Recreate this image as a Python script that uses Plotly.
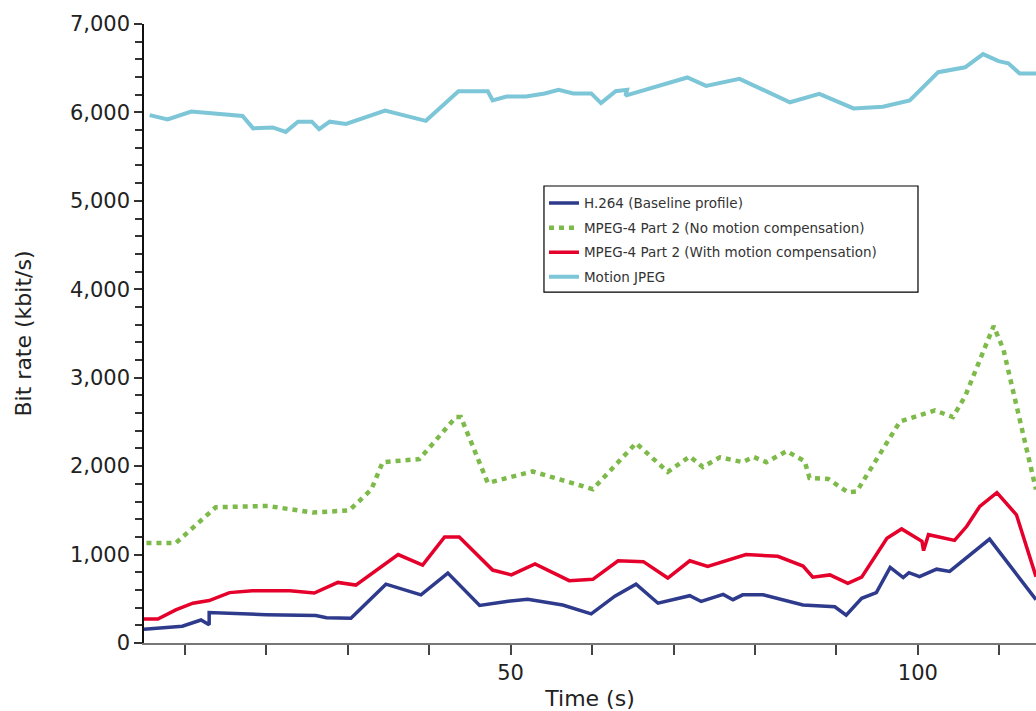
import plotly.graph_objects as go

# ---- data (time in s, bit rate in kbit/s) ----
names = [
    "H.264 (Baseline profile)",
    "MPEG-4 Part 2 (No motion compensation)",
    "MPEG-4 Part 2 (With motion compensation)",
    "Motion JPEG",
]

t_h264 = [5, 9.7, 12.0, 13.0, 13.0, 20.0, 26.1, 27.4, 30.4, 34.7, 39.0, 42.3, 46.2, 49.5, 52.1, 56.4,
          59.9, 62.8, 65.4, 68.1, 72.0, 73.4, 76.1, 77.3, 78.5, 81.0, 85.9, 89.8, 91.2, 93.1, 94.9,
          96.6, 98.2, 98.9, 100.2, 102.3, 103.9, 108.8, 114.5]
v_h264 = [155, 190, 260, 205, 345, 320, 310, 285, 280, 665, 545, 790, 425, 470, 495, 430,
          330, 530, 665, 450, 535, 470, 550, 490, 545, 545, 430, 410, 315, 505, 570,
          855, 740, 795, 750, 835, 810, 1175, 490]

t_mp4_nomc = [5.3, 8.9, 13.8, 20.2, 25.7, 30.2, 32.9, 34.3, 38.8, 43.3, 43.9, 47.2, 52.7, 60.1,
              65.4, 69.3, 72.0, 73.6, 75.7, 78.5, 79.8, 81.4, 83.9, 86.1, 86.7, 89.0, 91.4, 92.5,
              97.8, 102.1, 104.3, 105.8, 109.3, 110.5, 114.5]
v_mp4_nomc = [1130, 1130, 1535, 1550, 1475, 1500, 1735, 2045, 2080, 2555, 2555, 1810, 1940, 1740,
              2260, 1935, 2110, 1990, 2100, 2045, 2105, 2045, 2170, 2055, 1865, 1855, 1705, 1715,
              2505, 2630, 2555, 2790, 3585, 3320, 1735]

t_mp4_mc = [5, 6.7, 8.9, 11.0, 13.0, 15.5, 18.3, 22.9, 25.9, 28.8, 31.0, 36.2, 39.2, 41.9, 43.7,
            47.8, 50.1, 53.0, 57.2, 60.1, 63.2, 66.3, 69.3, 72.0, 74.2, 76.9, 78.9, 82.8, 85.9,
            87.1, 89.2, 91.4, 93.1, 96.2, 98.0, 100.5, 100.7, 101.3, 104.5, 106.0, 107.6, 109.7,
            112.1, 114.5]
v_mp4_mc = [270, 270, 375, 450, 480, 570, 590, 590, 565, 685, 655, 1000, 880, 1200, 1200,
            825, 770, 895, 705, 720, 930, 920, 735, 930, 865, 940, 1000, 980, 870,
            745, 770, 675, 745, 1185, 1290, 1150, 1045, 1225, 1160, 1320, 1545, 1700,
            1450, 750]

t_mjpeg = [5.7, 7.9, 10.8, 17.1, 18.4, 20.8, 22.4, 23.9, 25.6, 26.5, 27.8, 29.8, 34.6, 39.6,
           43.6, 47.2, 47.8, 49.5, 51.9, 54.2, 55.9, 57.7, 59.9, 61.1, 62.9, 64.3, 64.1, 71.7,
           74.0, 78.1, 84.3, 87.9, 92.1, 95.7, 99.0, 102.5, 105.8, 108.0, 109.9, 111.1, 112.5, 114.5]
v_mjpeg = [5970, 5920, 6010, 5960, 5820, 5830, 5780, 5895, 5895, 5810, 5895, 5870, 6020, 5905,
           6240, 6240, 6135, 6180, 6180, 6215, 6255, 6215, 6215, 6105, 6240, 6255, 6190, 6395,
           6300, 6380, 6115, 6210, 6045, 6065, 6135, 6455, 6510, 6660, 6580, 6555, 6440, 6440]

colors = ["#2e3a8c", "#7dba4a", "#e4002b", "#7cc6d8"]

FONT = "DejaVu Sans"

fig = go.Figure()
series = [(t_h264, v_h264), (t_mp4_nomc, v_mp4_nomc), (t_mp4_mc, v_mp4_mc), (t_mjpeg, v_mjpeg)]
widths = [3.5, 4.5, 3.5, 4]
dashes = ["solid", "5px,5px", "solid", "solid"]
for i, ((tx, vy), nm) in enumerate(zip(series, names)):
    fig.add_trace(go.Scatter(
        x=tx, y=vy, mode="lines", name=nm, legendgroup=f"g{i}",
        line=dict(color=colors[i], width=widths[i], dash=dashes[i]),
    ))

# legend frame (paper coordinates)
fig.add_shape(type="rect", xref="paper", yref="paper",
              x0=0.4484, x1=0.8677, y0=0.567, y1=0.7383,
              line=dict(color="#000", width=1.2), fillcolor="white", layer="above")

fig.update_layout(
    width=1036, height=711,
    margin=dict(l=144, r=0, t=24, b=68),
    paper_bgcolor="white", plot_bgcolor="white",
    font=dict(family=FONT, color="#222"),
    showlegend=True,
    legend=dict(
        x=0.4484, y=0.7353, xanchor="left", yanchor="top",
        bgcolor="rgba(0,0,0,0)", borderwidth=0,
        font=dict(family=FONT, size=13.5, color="#333"),
        tracegroupgap=4, itemwidth=30,
    ),
)

fig.update_xaxes(
    range=[5, 114.5], showgrid=False, zeroline=False,
    showline=True, linecolor="#777", linewidth=1.5,
    tickmode="linear", tick0=0, dtick=50,
    ticks="outside", ticklen=10, tickcolor="#444", tickwidth=1.5,
    minor=dict(tickmode="linear", tick0=0, dtick=10, ticks="outside", ticklen=10,
               tickcolor="#444", tickwidth=1.5),
    tickfont=dict(family=FONT, size=21, color="#222"),
    title=dict(text="Time (s)", font=dict(family=FONT, size=22, color="#222"), standoff=8),
)

fig.update_yaxes(
    range=[0, 7000], showgrid=False, zeroline=False,
    showline=True, linecolor="#111", linewidth=1.5,
    tickmode="linear", tick0=0, dtick=1000, tickformat=",d",
    ticks="outside", ticklen=8, tickcolor="#333", tickwidth=1.5,
    minor=dict(tickmode="linear", tick0=0, dtick=200, ticks="outside", ticklen=7,
               tickcolor="#333", tickwidth=1.5),
    tickfont=dict(family=FONT, size=21, color="#222"),
    title=dict(text="Bit rate (kbit/s)", font=dict(family=FONT, size=22, color="#222"), standoff=32),
)

fig.write_html("out.html", config={"displayModeBar": False},
               post_script="document.body.style.margin='0';")
